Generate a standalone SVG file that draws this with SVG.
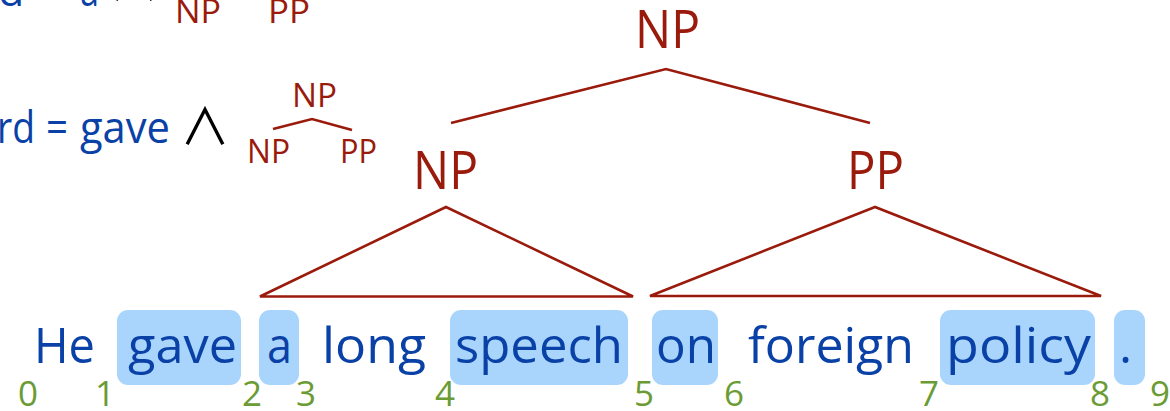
<svg xmlns="http://www.w3.org/2000/svg" width="1170" height="411" viewBox="0 0 1170 411">
<style>
text{font-family:"Open Sans","Liberation Sans",sans-serif}
.w{fill:#0a41a6;font-size:50px}
.h{fill:#0a41a6;font-size:43px}
.cat{fill:#9a1a0c}
.big{font-size:53px}
.sm{font-size:33px}
.idx{fill:#6b9b34;font-size:35px}
.box{fill:#a9d5fc}
.ln{stroke:#9a1a0c;stroke-width:2.6;fill:none;stroke-linejoin:miter}
.and{font-family:"Noto Sans CJK JP","DejaVu Sans",sans-serif;font-weight:400;font-size:50px;fill:#000;text-anchor:middle}
</style>
<rect width="1170" height="411" fill="#fff"/>
<g id="feature1">
<text class="h" x="-2" y="6">d</text>
<text class="h" x="80" y="6" textLength="19" lengthAdjust="spacingAndGlyphs">a</text>
<text class="and" x="134" y="1">∧</text>
<text class="cat sm" x="175" y="23" textLength="46" lengthAdjust="spacingAndGlyphs">NP</text>
<text class="cat sm" x="268" y="23" textLength="42" lengthAdjust="spacingAndGlyphs">PP</text>
</g>
<g id="feature2">
<text class="h" x="-3" y="143" textLength="38" lengthAdjust="spacingAndGlyphs">rd</text>
<text class="h" x="46" y="143" textLength="22" lengthAdjust="spacingAndGlyphs">=</text>
<text class="h" x="80" y="143" textLength="90" lengthAdjust="spacingAndGlyphs">gave</text>
<text class="and" x="205" y="145">∧</text>
<text class="cat sm" x="292" y="107" textLength="45" lengthAdjust="spacingAndGlyphs">NP</text>
<text class="cat sm" x="247" y="163" textLength="43" lengthAdjust="spacingAndGlyphs">NP</text>
<text class="cat sm" x="340" y="163" textLength="37" lengthAdjust="spacingAndGlyphs">PP</text>
</g>
<g id="np-root"><text class="cat big" x="635" y="48" textLength="65" lengthAdjust="spacingAndGlyphs">NP</text></g>
<g id="np-left"><text class="cat big" x="413" y="189" textLength="65" lengthAdjust="spacingAndGlyphs">NP</text></g>
<g id="pp-right"><text class="cat big" x="847" y="189" textLength="57" lengthAdjust="spacingAndGlyphs">PP</text></g>
<g id="connectors">
<polyline class="ln" points="273,129 312,119 352,130"/>
<polyline class="ln" points="451,123 666,69 870,123"/>
<polygon class="ln" points="446,207 260,296.5 633,296.5"/>
<polygon class="ln" points="875,207 650,296 1101,296"/>
</g>
<g id="words">
<g id="w-he"><text class="w" x="34" y="363" textLength="61" lengthAdjust="spacingAndGlyphs">He</text></g>
<g id="w-gave"><rect class="box" x="117" y="310" width="124" height="75" rx="11"/><text class="w" x="128" y="363" textLength="109" lengthAdjust="spacingAndGlyphs">gave</text></g>
<g id="w-a"><rect class="box" x="259" y="310" width="40" height="75" rx="11"/><text class="w" x="267" y="363" textLength="25" lengthAdjust="spacingAndGlyphs">a</text></g>
<g id="w-long"><text class="w" x="322" y="363" textLength="104" lengthAdjust="spacingAndGlyphs">long</text></g>
<g id="w-speech"><rect class="box" x="450" y="310" width="178" height="75" rx="11"/><text class="w" x="455" y="363" textLength="168" lengthAdjust="spacingAndGlyphs">speech</text></g>
<g id="w-on"><rect class="box" x="652" y="310" width="66" height="75" rx="11"/><text class="w" x="656" y="363" textLength="60" lengthAdjust="spacingAndGlyphs">on</text></g>
<g id="w-foreign"><text class="w" x="748" y="363" textLength="166" lengthAdjust="spacingAndGlyphs">foreign</text></g>
<g id="w-policy"><rect class="box" x="940" y="310" width="155" height="75" rx="11"/><text class="w" x="946" y="363" textLength="145" lengthAdjust="spacingAndGlyphs">policy</text></g>
<g id="w-dot"><rect class="box" x="1114" y="310" width="31" height="75" rx="11"/><text class="w" x="1119" y="363">.</text></g>
</g>
<g id="indices">
<text class="idx" x="18" y="406">0</text>
<text class="idx" x="95" y="406">1</text>
<text class="idx" x="242" y="406">2</text>
<text class="idx" x="296" y="406">3</text>
<text class="idx" x="435" y="406">4</text>
<text class="idx" x="634" y="406">5</text>
<text class="idx" x="724" y="406">6</text>
<text class="idx" x="919" y="406">7</text>
<text class="idx" x="1090" y="406">8</text>
<text class="idx" x="1150" y="406">9</text>
</g>
</svg>
